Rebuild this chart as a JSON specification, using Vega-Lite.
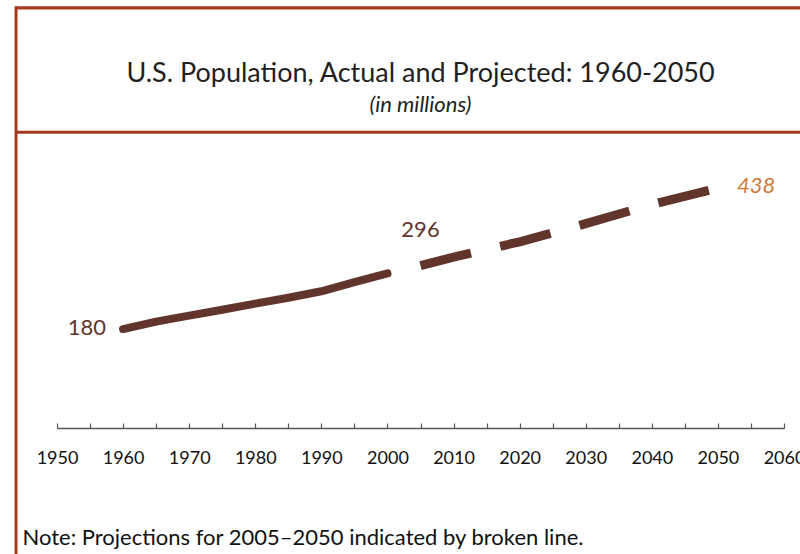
{
  "$schema": "https://vega.github.io/schema/vega-lite/v6.json",
  "width": 727,
  "height": 419,
  "autosize": {"type": "none"},
  "padding": {"left": 57, "top": 9, "right": 16, "bottom": 126},
  "background": "white",
  "config": {"view": {"stroke": null}, "font": "Lato"},
  "title": {
    "text": "U.S. Population, Actual and Projected: 1960-2050",
    "subtitle": "(in millions)",
    "anchor": "middle",
    "frame": "group",
    "font": "Lato",
    "fontSize": 27,
    "fontWeight": "normal",
    "color": "#231f20",
    "subtitleFont": "Lato",
    "subtitleFontSize": 22,
    "subtitleFontStyle": "italic",
    "subtitleColor": "#231f20",
    "subtitlePadding": 7,
    "offset": -112
  },
  "data": {
    "values": [
      {"year": 1960, "value": 180.7, "series": "Actual", "label": "180"},
      {"year": 1965, "value": 194.3, "series": "Actual", "label": ""},
      {"year": 1970, "value": 205.1, "series": "Actual", "label": ""},
      {"year": 1975, "value": 216.0, "series": "Actual", "label": ""},
      {"year": 1980, "value": 227.2, "series": "Actual", "label": ""},
      {"year": 1985, "value": 237.9, "series": "Actual", "label": ""},
      {"year": 1990, "value": 249.6, "series": "Actual", "label": ""},
      {"year": 1995, "value": 266.3, "series": "Actual", "label": ""},
      {"year": 2000, "value": 282.2, "series": "Actual", "label": ""},
      {"year": 2005, "value": 296.5, "series": "Projected", "label": "296"},
      {"year": 2010, "value": 312, "series": "Projected", "label": ""},
      {"year": 2020, "value": 340, "series": "Projected", "label": ""},
      {"year": 2030, "value": 373, "series": "Projected", "label": ""},
      {"year": 2040, "value": 408, "series": "Projected", "label": ""},
      {"year": 2050, "value": 438, "series": "Projected", "label": "438"}
    ]
  },
  "encoding": {
    "x": {
      "field": "year",
      "type": "quantitative",
      "scale": {"domain": [1950, 2060], "nice": false, "zero": false},
      "axis": {
        "values": [1950, 1955, 1960, 1965, 1970, 1975, 1980, 1985, 1990, 1995, 2000, 2005, 2010, 2015, 2020, 2025, 2030, 2035, 2040, 2045, 2050, 2055, 2060],
        "format": "d",
        "labelExpr": "datum.value % 10 === 0 ? datum.label : ''",
        "grid": false,
        "tickSize": -5,
        "tickColor": "#555555",
        "tickWidth": 1.2,
        "domainColor": "#555555",
        "domainWidth": 1.5,
        "labelFont": "Lato",
        "labelFontSize": 18,
        "labelColor": "#111111",
        "labelPadding": 26,
        "labelFlush": false,
        "labelOverlap": false,
        "title": "Note: Projections for 2005\u20132050 indicated by broken line.",
        "titleFont": "Lato",
        "titleFontSize": 22,
        "titleFontWeight": "normal",
        "titleColor": "#111111",
        "titleAnchor": "start",
        "titleAlign": "left",
        "titleBaseline": "alphabetic",
        "titleAngle": 0,
        "titleX": -35,
        "titleY": 116
      }
    },
    "y": {
      "field": "value",
      "type": "quantitative",
      "scale": {"domain": [0, 765], "nice": false, "zero": false},
      "axis": null
    }
  },
  "layer": [
    {
      "transform": [{"filter": "datum.year === 1960"}],
      "mark": {"type": "rule", "color": "#a43d1f", "strokeWidth": 3.3, "clip": false},
      "encoding": {
        "x": {"datum": 1943.8},
        "x2": {"datum": 2075},
        "y": {"datum": 767}
      }
    },
    {
      "transform": [{"filter": "datum.year === 1960"}],
      "mark": {"type": "rule", "color": "#a43d1f", "strokeWidth": 3, "clip": false},
      "encoding": {
        "x": {"datum": 1943.8},
        "x2": {"datum": 2075},
        "y": {"datum": 540}
      }
    },
    {
      "transform": [{"filter": "datum.year === 1960"}],
      "mark": {"type": "rule", "color": "#a43d1f", "strokeWidth": 3, "clip": false},
      "encoding": {
        "x": {"datum": 1943.8},
        "y": {"datum": 770},
        "y2": {"datum": -250}
      }
    },
    {
      "transform": [{"filter": "datum.series === 'Actual'"}],
      "mark": {"type": "line", "color": "#62352c", "strokeWidth": 8, "strokeCap": "round", "strokeJoin": "round"}
    },
    {
      "transform": [{"filter": "datum.series === 'Projected'"}],
      "mark": {"type": "line", "color": "#62352c", "strokeWidth": 9, "strokeCap": "butt", "strokeDash": [52, 30]}
    },
    {
      "transform": [{"filter": "datum.year === 1960"}],
      "mark": {"type": "text", "align": "right", "baseline": "middle", "dx": -17, "dy": -1, "font": "Lato", "fontSize": 22, "color": "#62352c"},
      "encoding": {"text": {"field": "label"}}
    },
    {
      "transform": [{"filter": "datum.year === 2005"}],
      "mark": {"type": "text", "align": "center", "baseline": "alphabetic", "dx": 0, "dy": -29, "font": "Lato", "fontSize": 22, "color": "#62352c"},
      "encoding": {"text": {"field": "label"}}
    },
    {
      "transform": [{"filter": "datum.year === 2050"}],
      "mark": {"type": "text", "align": "left", "baseline": "middle", "dx": 19, "dy": -2, "font": "Lato", "fontSize": 22, "fontStyle": "italic", "color": "#d07a3a"},
      "encoding": {"text": {"field": "label"}}
    }
  ]
}
